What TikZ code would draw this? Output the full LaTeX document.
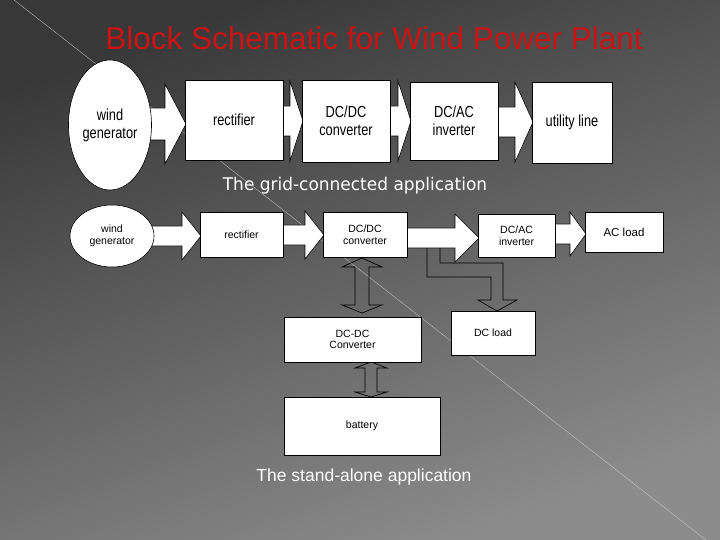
\documentclass[tikz,border=0pt]{standalone}
\usepackage{fontspec}
\setmainfont{Liberation Sans}
\newfontfamily\dvs{DejaVu Sans}
\usetikzlibrary{shapes.geometric}
\definecolor{ttl}{RGB}{200,20,20}
\newcommand{\rarw}[6]{% x0 xs xe yc shafthalf headhalf
 \filldraw[fill=white,draw=black,line width=0.6pt] (#1,#4-#5)--(#2,#4-#5)--(#2,#4-#6)--(#3,#4)--(#2,#4+#6)--(#2,#4+#5)--(#1,#4+#5)--cycle;}
\newcommand{\vdarw}[7]{% xc ytop yh1 yh2 ybot shafthalf headhalf
 \draw[draw=black,line width=0.7pt] (#1,#2)--(#1+#7,#3)--(#1+#6,#3)--(#1+#6,#4)--(#1+#7,#4)--(#1,#5)--(#1-#7,#4)--(#1-#6,#4)--(#1-#6,#3)--(#1-#7,#3)--cycle;}
\begin{document}
\begin{tikzpicture}[x=1pt,y=-1pt,
 box/.style={draw=black,fill=white,line width=0.6pt,align=center,inner sep=0pt},
 big/.style={box,font=\fontsize{16}{18}\selectfont\addfontfeature{FakeStretch=0.8}},
 sm/.style={box,font=\fontsize{10.5}{11.5}\selectfont}]
\shade[top color=black!78,bottom color=black!45,shading angle=20] (0,0) rectangle (720,540);
\useasboundingbox (0,0) rectangle (720,540);
\draw[white!60!gray,line width=0.3pt] (14,0)--(706,540);
\node[text=ttl,font=\fontsize{31.5}{34}\selectfont] (title) at (374,38) {Block Schematic for Wind Power Plant};
% top row
\rarw{148}{165}{186}{124}{16}{40}
\rarw{282}{290}{303}{121}{15}{40}
\rarw{389}{398}{411}{121}{15}{40}
\rarw{497}{515}{533}{122}{15}{40}
\node[big,ellipse,minimum width=83,minimum height=130] (wg1) at (110,125) {wind\\generator};
\node[big,minimum width=98,minimum height=80] (rec1) at (234,120) {rectifier};
\node[big,minimum width=88,minimum height=82] (dcdc1) at (346,121) {DC/DC\\converter};
\node[big,minimum width=88,minimum height=78] (dcac1) at (454,121) {DC/AC\\inverter};
\node[big,minimum width=80,minimum height=81] (ul1) at (572,122.5) {utility line};
\node[text=white,font=\dvs\fontsize{17.5}{20}\selectfont\addfontfeature{FakeStretch=0.97}] (cap1) at (355,186) {The grid-connected application};
% bottom row
\rarw{150}{182}{201}{236}{10}{24}
\rarw{282}{305}{324}{235}{10}{24}
\rarw{405}{455}{479}{238}{10}{24}
\rarw{554}{570}{586}{234}{10}{22}
% branch to DC load (outline only)
\draw[black,line width=0.7pt] (427,248)--(427,277)--(491,277)--(491,300)--(478,300)--(497,311)--(517,300)--(503,300)--(503,263)--(440,263)--(440,248);
\vdarw{362}{258}{267}{305}{313}{7}{20}
\vdarw{371}{362}{368}{392}{397}{6}{16}
\node[sm,ellipse,minimum width=84,minimum height=62] (wg2) at (112,236) {wind\\generator};
\node[sm,minimum width=83,minimum height=45] (rec2) at (241.5,234.5) {rectifier};
\node[sm,minimum width=84,minimum height=45] (dcdc2) at (365,234.5) {DC/DC\\converter};
\node[sm,minimum width=77,minimum height=43] (dcac2) at (516.5,235.5) {DC/AC\\inverter};
\node[sm,font=\fontsize{11.5}{13}\selectfont,minimum width=78,minimum height=40] (acl) at (624,232) {AC load};
\node[sm,minimum width=137,minimum height=45] (dcc) at (352.5,339.5) {DC-DC\\Converter};
\node[sm,minimum width=84,minimum height=44] (dcl) at (493,333) {DC load};
\node[sm,minimum width=156,minimum height=58] (bat) at (362,426) {battery};
\node[text=white,font=\fontsize{17.5}{20}\selectfont] (cap2) at (364,477) {The stand-alone application};
\end{tikzpicture}
\end{document}
